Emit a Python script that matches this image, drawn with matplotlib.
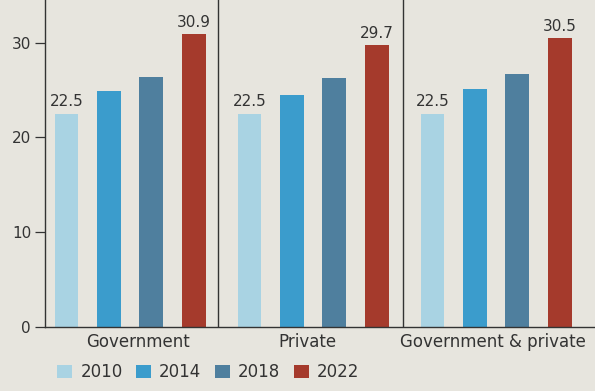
import matplotlib
matplotlib.use("Agg")
import matplotlib.pyplot as plt
import numpy as np
from matplotlib.patches import Patch

categories = ["Government", "Private", "Government & private"]
years = ["2010", "2014", "2018", "2022"]
v2010 = [22.5, 22.5, 22.5]
v2014 = [24.9, 24.5, 25.1]
v2018 = [26.4, 26.3, 26.7]
v2022 = [30.9, 29.7, 30.5]
series = [v2010, v2014, v2018, v2022]
colors = ["#a9d3e3", "#3b9ccc", "#4f7f9e", "#a53a2c"]
ytick_vals = [0, 10, 20, 30]

bg = "#e7e5de"
ink = "#333333"
fig = plt.figure(figsize=(5.95, 3.91), dpi=100, facecolor=bg)
ax = fig.add_axes([45/595, 1-327/391, 1-45/595, 327/391])
ax.set_facecolor(bg)

x = np.arange(len(categories))
step = 0.232
width = 0.13
for i, (vals, c) in enumerate(zip(series, colors)):
    ax.bar(x + (i - 1.5) * step, vals, width=width, color=c, zorder=2)

# value labels on 2010 and 2022 bars
for j in range(len(categories)):
    ax.text(x[j] - 1.5 * step, v2010[j] + 0.45, f"{v2010[j]}", ha="center", va="bottom",
            fontsize=11, color=ink)
    ax.text(x[j] + 1.5 * step, v2022[j] + 0.45, f"{v2022[j]}", ha="center", va="bottom",
            fontsize=11, color=ink)

# separators
for s in [0.48, 1.49]:
    ax.axvline(s, color=ink, lw=1.0, zorder=1)

ax.set_xlim(-0.465, 2.54)
ax.set_ylim(0, 34.5)
ax.set_yticks(ytick_vals)
ax.set_yticklabels([str(v) for v in ytick_vals], fontsize=11, color=ink)
ax.tick_params(axis="y", length=7, width=0.9, color=ink, pad=3)
ax.set_xticks(x + np.array([0.045, -0.03, -0.015]))
ax.set_xticklabels(categories, fontsize=12, color=ink)
ax.tick_params(axis="x", length=0, pad=4)
for sp in ["top", "right"]:
    ax.spines[sp].set_visible(False)
ax.spines["left"].set_color(ink)
ax.spines["bottom"].set_color(ink)
ax.spines["left"].set_linewidth(1.0)
ax.spines["bottom"].set_linewidth(1.0)

handles = [Patch(facecolor=c, label=y) for c, y in zip(colors, years)]
fig.legend(handles=handles, loc="center left", bbox_to_anchor=(42/595, 1-372/391),
           ncol=4, frameon=False, fontsize=12, handlelength=0.9, handleheight=0.8,
           handletextpad=0.5, columnspacing=0.8, labelcolor=ink)

fig.savefig("out.png", dpi=100, facecolor=bg)
